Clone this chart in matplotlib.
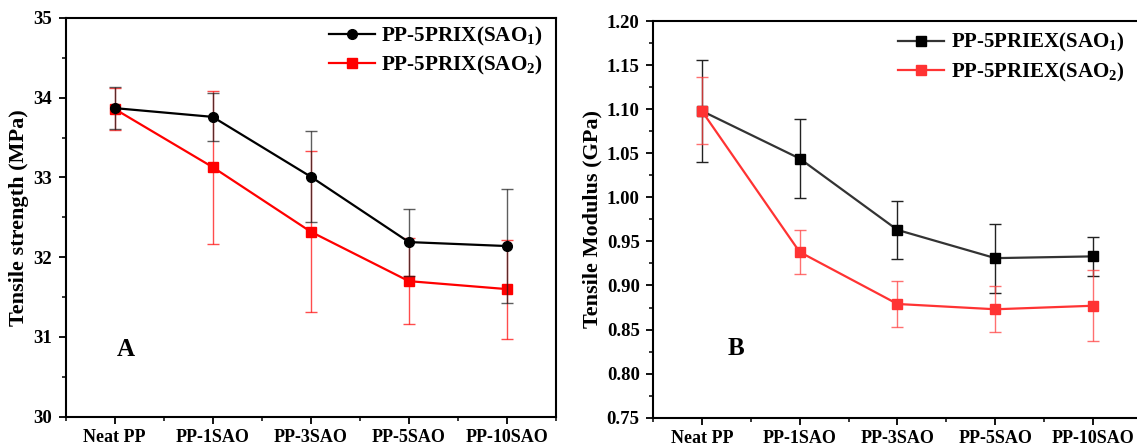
import numpy as np
import matplotlib
matplotlib.use('Agg')
import matplotlib.pyplot as plt

plt.rcParams['font.family'] = 'Liberation Serif'
plt.rcParams['font.weight'] = 'bold'
plt.rcParams['mathtext.fontset'] = 'custom'
plt.rcParams['mathtext.rm'] = 'Liberation Serif:bold'
plt.rcParams['mathtext.bf'] = 'Liberation Serif:bold'
plt.rcParams['mathtext.default'] = 'bf'

categories = ['Neat PP', 'PP-1SAO', 'PP-3SAO', 'PP-5SAO', 'PP-10SAO']

# panel A - tensile strength (MPa)
strength_sao1 = [33.87, 33.76, 33.01, 32.19, 32.14]
strength_sao1_err = [0.26, 0.30, 0.57, 0.42, 0.72]
strength_sao2 = [33.86, 33.13, 32.32, 31.70, 31.60]
strength_sao2_err = [0.26, 0.96, 1.01, 0.54, 0.62]

# panel B - tensile modulus (GPa)
modulus_sao1 = [1.098, 1.044, 0.963, 0.931, 0.933]
modulus_sao1_err = [0.058, 0.045, 0.033, 0.039, 0.022]
modulus_sao2 = [1.098, 0.938, 0.879, 0.873, 0.877]
modulus_sao2_err = [0.038, 0.025, 0.026, 0.026, 0.040]

x = np.arange(len(categories))

fig = plt.figure(figsize=(11.37, 4.48), dpi=100)
W, H = 1137, 448
ax1 = fig.add_axes([65.5 / W, 1 - 416.7 / H, (556 - 65.5) / W, (416.7 - 18) / H])
ax2 = fig.add_axes([652.9 / W, 1 - 417.7 / H, (1142 - 652.9) / W, (417.7 - 21) / H])


def style_axes(ax):
    for s in ax.spines.values():
        s.set_linewidth(1.5)
    ax.set_xticks(x)
    ax.set_xticks(np.arange(-0.5, 4.6, 1.0), minor=True)
    ax.set_xticklabels(categories, fontsize=13, fontweight='bold')
    ax.tick_params(axis='both', which='major', direction='out', length=5, width=1.3, labelsize=13.5)
    ax.tick_params(axis='x', which='major', labelsize=13)
    ax.tick_params(axis='y', which='major', pad=4.5)
    ax.tick_params(axis='both', which='minor', direction='out', length=3, width=1.1)
    ax.set_xlim(-0.5, 4.5)


# ---- panel A
a1 = ax1.errorbar(x, strength_sao1, yerr=strength_sao1_err, color='black', marker='o',
                  markersize=7, linewidth=1.6, ecolor=(0.1, 0.1, 0.1, 0.7), elinewidth=1,
                  capsize=4, capthick=1, zorder=3)
a2 = ax1.errorbar(x, strength_sao2, yerr=strength_sao2_err, color='#ff0000', marker='s',
                  markersize=7, linewidth=1.6, ecolor=(1, 0, 0, 0.7), elinewidth=1,
                  capsize=4, capthick=1, zorder=2)
style_axes(ax1)
ax1.set_ylim(30, 35)
ax1.set_yticks(np.arange(30, 35.1, 1))
ax1.set_yticks(np.arange(30.5, 35, 1), minor=True)
ax1.set_ylabel('Tensile strength (MPa)', fontsize=16, fontweight='bold', labelpad=3)
ax1.text(0.02, 30.76, 'A', fontsize=18, fontweight='bold')
ax1.legend([a1[0], a2[0]], ['PP-5PRIX(SAO$_1$)', 'PP-5PRIX(SAO$_2$)'],
           loc='upper right', frameon=False, fontsize=15.2, handlelength=2.2,
           handletextpad=0.3, borderaxespad=0.1, labelspacing=0.32,
           bbox_to_anchor=(0.995, 1.01))

# ---- panel B
b1 = ax2.errorbar(x, modulus_sao1, yerr=modulus_sao1_err, color='#333333', marker='s',
                  markersize=7, markerfacecolor='black', markeredgecolor='black',
                  linewidth=1.6, ecolor='#222222', elinewidth=1, capsize=4, capthick=1,
                  zorder=2)
b2 = ax2.errorbar(x, modulus_sao2, yerr=modulus_sao2_err, color='#ff3333', marker='s',
                  markersize=7, linewidth=1.6, ecolor=(1, 0.25, 0.25, 0.75), elinewidth=1,
                  capsize=4, capthick=1, zorder=3)
style_axes(ax2)
ax2.set_ylim(0.75, 1.20)
ax2.set_yticks(np.arange(0.75, 1.201, 0.05))
ax2.set_yticklabels([f'{v:.2f}' for v in np.arange(0.75, 1.201, 0.05)])
ax2.set_yticks(np.arange(0.775, 1.2, 0.05), minor=True)
ax2.set_ylabel('Tensile Modulus (GPa)', fontsize=16, fontweight='bold', labelpad=3)
ax2.text(0.26, 0.821, 'B', fontsize=18, fontweight='bold')
ax2.legend([b1[0], b2[0]], ['PP-5PRIEX(SAO$_1$)', 'PP-5PRIEX(SAO$_2$)'],
           loc='upper right', frameon=False, fontsize=15, handlelength=2.2,
           handletextpad=0.3, borderaxespad=0.1, labelspacing=0.32,
           bbox_to_anchor=(0.985, 1.0))

fig.savefig('out.png', dpi=100)
